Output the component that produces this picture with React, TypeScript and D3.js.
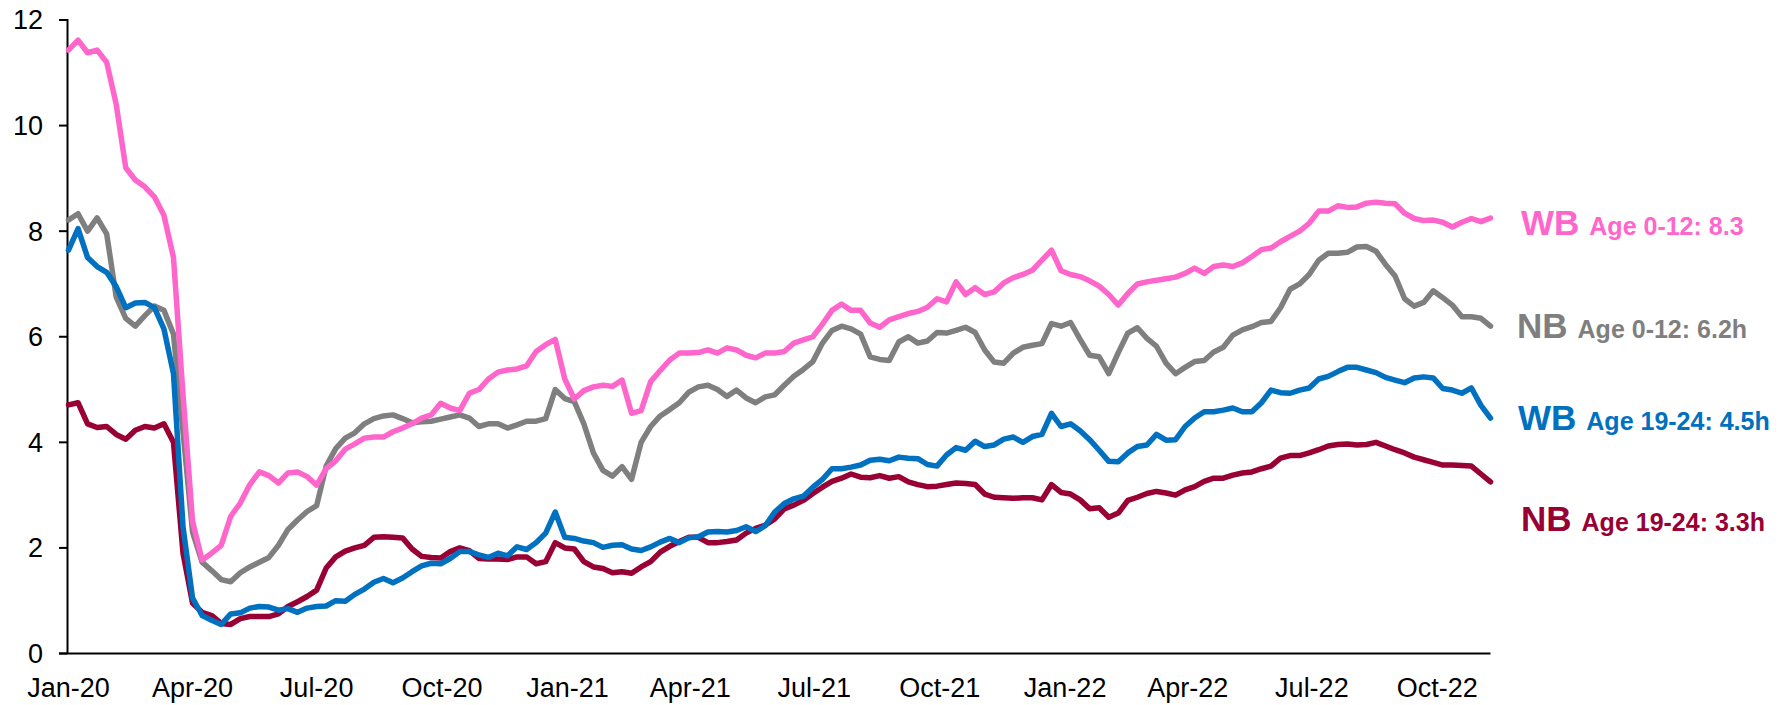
import React from "react";
import * as d3 from "d3";

// weekly readings, first point 1 Jan 2020
const START = new Date(2020, 0, 1);

const wb012 = [
  11.43, 11.62, 11.38, 11.43, 11.2, 10.4, 9.2, 8.97, 8.84, 8.65, 8.3, 7.5,
  4.9, 2.5, 1.77, 1.9, 2.05, 2.6, 2.85, 3.2, 3.44, 3.37, 3.23, 3.42,
  3.44, 3.35, 3.19, 3.5, 3.65, 3.87, 3.97, 4.08, 4.1, 4.1, 4.2, 4.27,
  4.35, 4.46, 4.52, 4.74, 4.65, 4.6, 4.93, 5.0, 5.2, 5.33, 5.37, 5.39,
  5.45, 5.72, 5.85, 5.95,
  5.2, 4.82, 4.98, 5.05, 5.08, 5.06, 5.18, 4.55, 4.6, 5.15, 5.36, 5.56,
  5.69, 5.69, 5.7, 5.75, 5.69, 5.79, 5.75, 5.65, 5.6, 5.69, 5.69, 5.72, 5.88,
  5.94, 6.0, 6.24, 6.5, 6.62, 6.5, 6.5, 6.26, 6.18, 6.32, 6.38, 6.44,
  6.48, 6.56, 6.72, 6.66, 7.04, 6.8, 6.93, 6.8, 6.85, 7.02, 7.12, 7.18,
  7.26, 7.45, 7.64, 7.25, 7.18, 7.14, 7.06, 6.96, 6.8, 6.6, 6.82, 7.0,
  7.04, 7.07, 7.1, 7.13, 7.2, 7.3, 7.2, 7.33, 7.36, 7.33, 7.4, 7.52, 7.65,
  7.68, 7.8, 7.9, 8.0, 8.15, 8.38, 8.38, 8.48, 8.45, 8.46, 8.53, 8.55,
  8.53, 8.52, 8.34, 8.24, 8.2, 8.21, 8.17, 8.08, 8.17, 8.24, 8.18, 8.25,
];

const nb012 = [
  8.21, 8.33, 8.0, 8.25, 7.95, 6.75, 6.35, 6.2, 6.4, 6.58, 6.5, 6.05,
  4.2, 2.3, 1.73, 1.57, 1.4, 1.36, 1.53, 1.64, 1.73, 1.82, 2.05, 2.35,
  2.53, 2.69, 2.8, 3.55, 3.88, 4.08, 4.18, 4.35, 4.45, 4.5, 4.52, 4.45,
  4.37, 4.39, 4.4, 4.44, 4.48, 4.52, 4.46, 4.3, 4.35, 4.35, 4.27, 4.33,
  4.4, 4.4, 4.45, 5.0,
  4.83, 4.77, 4.35, 3.8, 3.47, 3.36, 3.54, 3.3, 4.0, 4.3, 4.5, 4.62,
  4.75, 4.95, 5.05, 5.08, 5.0, 4.87, 4.99, 4.84, 4.75, 4.86, 4.9, 5.08, 5.25,
  5.38, 5.53, 5.88, 6.12, 6.2, 6.15, 6.05, 5.62, 5.57, 5.55, 5.9, 6.0,
  5.88, 5.92, 6.08, 6.07, 6.12, 6.18, 6.08, 5.75, 5.52, 5.5, 5.69, 5.8,
  5.84, 5.87, 6.25, 6.2, 6.27, 5.95, 5.65, 5.62, 5.3, 5.7, 6.07, 6.17,
  5.97, 5.82, 5.5, 5.3, 5.42, 5.53, 5.55, 5.71, 5.8, 6.03, 6.13, 6.19, 6.27,
  6.29, 6.55, 6.9, 7.0, 7.18, 7.45, 7.58, 7.58, 7.6, 7.7, 7.71, 7.62,
  7.37, 7.15, 6.72, 6.58, 6.65, 6.87, 6.74, 6.6, 6.38, 6.38, 6.35, 6.2,
];

const wb1924 = [
  7.64, 8.05, 7.5, 7.33, 7.22, 6.95, 6.55, 6.64, 6.65, 6.55, 6.15, 5.3,
  2.4, 1.05, 0.72, 0.63, 0.55, 0.75, 0.77, 0.86, 0.89, 0.88, 0.82, 0.85,
  0.78, 0.86, 0.89, 0.9, 1.0, 0.99, 1.12, 1.22, 1.35, 1.42, 1.34, 1.43,
  1.55, 1.66, 1.71, 1.7, 1.8, 1.93, 1.93, 1.87, 1.82, 1.9, 1.85, 2.02,
  1.97, 2.1, 2.28, 2.68,
  2.2, 2.18, 2.13, 2.1, 2.01, 2.05, 2.06, 1.98, 1.95, 2.02, 2.11, 2.18,
  2.1, 2.19, 2.21, 2.3, 2.31, 2.3, 2.33, 2.4, 2.31, 2.42, 2.68, 2.84, 2.93,
  2.98, 3.15, 3.3, 3.5, 3.5, 3.53, 3.57, 3.66, 3.68, 3.65, 3.72, 3.7,
  3.69, 3.58, 3.55, 3.76, 3.9, 3.85, 4.02, 3.92, 3.95, 4.06, 4.1, 4.0,
  4.11, 4.15, 4.55, 4.3, 4.35, 4.22, 4.05, 3.85, 3.64, 3.63, 3.8, 3.92,
  3.95, 4.15, 4.04, 4.05, 4.3, 4.46, 4.58, 4.58, 4.61, 4.65, 4.58, 4.58, 4.75,
  4.99, 4.94, 4.93, 4.99, 5.03, 5.2, 5.25, 5.34, 5.42, 5.42, 5.37, 5.32,
  5.23, 5.18, 5.13, 5.22, 5.24, 5.22, 5.02, 4.99, 4.93, 5.03, 4.7, 4.46,
];

const nb1924 = [
  4.71, 4.75, 4.35, 4.28, 4.3, 4.15, 4.06, 4.23, 4.3, 4.27, 4.35, 4.0,
  1.9, 0.95, 0.78, 0.72, 0.57, 0.55, 0.66, 0.7, 0.7, 0.7, 0.75, 0.89,
  0.98, 1.08, 1.2, 1.62, 1.83, 1.94, 2.0, 2.05, 2.2, 2.21, 2.2, 2.19,
  1.98, 1.84, 1.82, 1.81, 1.93, 2.0, 1.95, 1.8, 1.79, 1.79, 1.78, 1.83,
  1.83, 1.7, 1.74, 2.1,
  2.0, 1.98, 1.74, 1.64, 1.61, 1.53, 1.55, 1.52, 1.64, 1.74, 1.92, 2.03,
  2.12, 2.2, 2.2, 2.1, 2.1, 2.12, 2.15, 2.28, 2.37, 2.43, 2.55, 2.74, 2.81,
  2.9, 3.03, 3.15, 3.26, 3.32, 3.4, 3.34, 3.33, 3.37, 3.32, 3.35, 3.25,
  3.2, 3.16, 3.17, 3.2, 3.23, 3.22, 3.2, 3.02, 2.96, 2.95, 2.94, 2.95,
  2.95, 2.91, 3.2, 3.05, 3.02, 2.91, 2.74, 2.76, 2.58, 2.66, 2.9, 2.96,
  3.03, 3.07, 3.04, 3.0, 3.1, 3.16, 3.26, 3.32, 3.32, 3.38, 3.42, 3.44, 3.5,
  3.55, 3.7, 3.75, 3.75, 3.8, 3.86, 3.93, 3.96, 3.97, 3.95, 3.96, 4.0,
  3.93, 3.86, 3.8, 3.72, 3.67, 3.62, 3.57, 3.57, 3.56, 3.55, 3.4, 3.25,
];

const seriesNames = ["NB", "NB", "WB", "WB"];
const seriesLabels = ["Age 0-12: 6.2h", "Age 19-24: 3.3h", "Age 19-24: 4.5h", "Age 0-12: 8.3"];
const yTicks = [0, 2, 4, 6, 8, 10, 12];

const dates = wb012.map((_, i) => d3.timeDay.offset(START, 7 * i));
const END = dates[dates.length - 1];

const FONT = "'Liberation Sans', Arial, sans-serif";

export default function App() {
  const x = d3.scaleTime().domain([START, END]).range([68.5, 1490.5]);
  const y = d3.scaleLinear().domain([0, 12]).range([653.5, 20]);

  const line = d3
    .line<number>()
    .x((_, i) => x(dates[i]))
    .y((d) => y(d));

  // draw order: grey, maroon, blue, pink on top
  const series = [
    { values: nb012, color: "#7f7f7f", lx: 1517, ly: 338 },
    { values: nb1924, color: "#990033", lx: 1521, ly: 531 },
    { values: wb1924, color: "#0070c0", lx: 1518, ly: 430 },
    { values: wb012, color: "#ff66cc", lx: 1521, ly: 235 },
  ];

  const xTicks = d3.timeMonth.every(3)!.range(START, d3.timeDay.offset(END, 1));
  const fmt = d3.timeFormat("%b-%y");

  return (
    <svg
      width={1791}
      height={705}
      style={{ position: "absolute", left: 0, top: 0, background: "#fff" }}
      fontFamily={FONT}
    >
      {/* axes */}
      <line x1={67.5} x2={67.5} y1={19} y2={653.5} stroke="#000" strokeWidth={2} />
      <line x1={59} x2={1490.5} y1={653.5} y2={653.5} stroke="#000" strokeWidth={2} />
      {yTicks.map((t) => (
        <g key={t}>
          <line x1={59} x2={67.5} y1={y(t)} y2={y(t)} stroke="#000" strokeWidth={2} />
          <text x={43} y={y(t)} dy="0.35em" textAnchor="end" fontSize={27} fill="#000">
            {t}
          </text>
        </g>
      ))}
      {xTicks.map((d) => (
        <text key={+d} x={x(d)} y={697} textAnchor="middle" fontSize={27} fill="#000">
          {fmt(d)}
        </text>
      ))}

      {series.map((s, i) => (
        <path
          key={i}
          d={line(s.values) || ""}
          fill="none"
          stroke={s.color}
          strokeWidth={5.5}
          strokeLinejoin="round"
          strokeLinecap="round"
        />
      ))}

      {series.map((s, i) => (
        <text key={"l" + i} x={s.lx} y={s.ly} fill={s.color} fontWeight="bold">
          <tspan fontSize={35}>{seriesNames[i]}</tspan>
          <tspan fontSize={25} dx={10}>
            {seriesLabels[i]}
          </tspan>
        </text>
      ))}
    </svg>
  );
}
